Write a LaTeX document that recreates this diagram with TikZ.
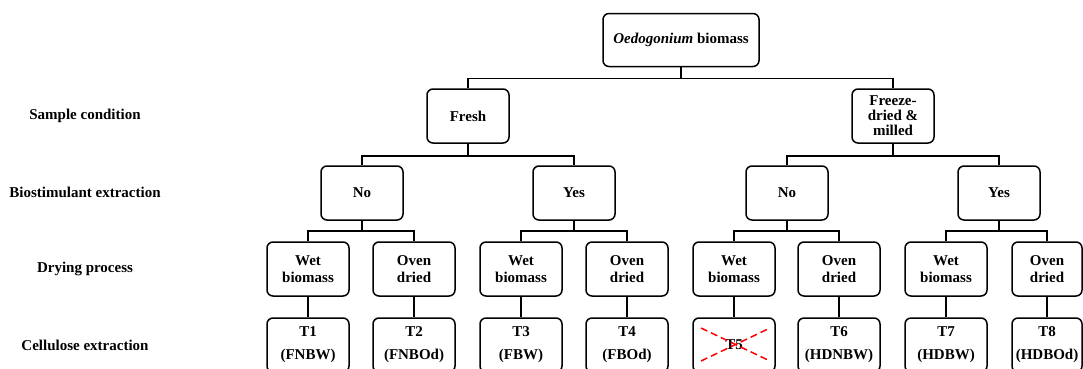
\documentclass[tikz,border=0pt]{standalone}
\usepackage{fontspec}
\setmainfont{Liberation Serif}
\newlength{\du}
\setlength{\du}{1pt}

\tikzset{
  stage/.style={draw, line width=1.5\du, rounded corners=6\du, align=center,
    minimum width=82\du, minimum height=54\du, inner sep=0pt,
    font=\fontsize{15}{17}\selectfont\bfseries},
  rowlabel/.style={align=center, font=\fontsize{15}{17}\selectfont\bfseries},
  link/.style={draw, line width=1.5\du},
  cross/.style={draw=red, line width=1.5\du, dash pattern=on 7\du off 4\du}
}

\begin{document}
\begin{tikzpicture}[yscale=-1]
\clip (0\du,0\du) rectangle (1083\du,368\du);

% row labels
\node[rowlabel] (lsample) at (85\du,116\du) {Sample condition};
\node[rowlabel] (lbio) at (85\du,192\du) {Biostimulant extraction};
\node[rowlabel] (ldry) at (85\du,269\du) {Drying process};
\node[rowlabel] (lcell) at (85\du,345\du) {Cellulose extraction};

% top
\node[stage, minimum width=156\du, minimum height=53\du] (biomass) at (681\du,40\du) {\textit{Oedogonium} biomass};

% sample condition
\node[stage] (fresh) at (468\du,116\du) {Fresh};
\node[stage, font=\fontsize{15}{15}\selectfont\bfseries] (freeze) at (893\du,116\du) {Freeze-\\dried \&\\milled};

% biostimulant extraction
\node[stage] (fno) at (362\du,193\du) {No};
\node[stage] (fyes) at (574\du,193\du) {Yes};
\node[stage] (dno) at (787\du,193\du) {No};
\node[stage] (dyes) at (999\du,193\du) {Yes};

% drying process
\node[stage] (fnowet) at (308\du,269\du) {Wet\\biomass};
\node[stage] (fnooven) at (414\du,269\du) {Oven\\dried};
\node[stage] (fyeswet) at (521\du,269\du) {Wet\\biomass};
\node[stage] (fyesoven) at (627\du,269\du) {Oven\\dried};
\node[stage] (dnowet) at (734\du,269\du) {Wet\\biomass};
\node[stage] (dnooven) at (839\du,269\du) {Oven\\dried};
\node[stage] (dyeswet) at (946\du,269\du) {Wet\\biomass};
\node[stage, minimum width=70\du] (dyesoven) at (1047\du,269\du) {Oven\\dried};

% cellulose extraction
\node[stage] (t1) at (308\du,345\du) {T1\\[6\du](FNBW)};
\node[stage] (t2) at (414\du,345\du) {T2\\[6\du](FNBOd)};
\node[stage] (t3) at (521\du,345\du) {T3\\[6\du](FBW)};
\node[stage] (t4) at (627\du,345\du) {T4\\[6\du](FBOd)};
\node[stage] (t5) at (734\du,345\du) {T5};
\node[stage] (t6) at (839\du,345\du) {T6\\[6\du](HDNBW)};
\node[stage] (t7) at (946\du,345\du) {T7\\[6\du](HDBW)};
\node[stage, minimum width=70\du] (t8) at (1047\du,345\du) {T8\\[6\du](HDBOd)};

% T5 crossed out
\draw[cross] (701\du,328\du) -- (770\du,361\du);
\draw[cross] (701\du,361\du) -- (770\du,328\du);

% links
\foreach \p/\c in {biomass/fresh, biomass/freeze}
  \draw[link] (\p.south) -- ++(0,11\du) -| (\c.north);
\foreach \p/\c in {fresh/fno, fresh/fyes, freeze/dno, freeze/dyes}
  \draw[link] (\p.south) -- ++(0,12\du) -| (\c.north);
\foreach \p/\c in {fno/fnowet, fno/fnooven, fyes/fyeswet, fyes/fyesoven,
                   dno/dnowet, dno/dnooven, dyes/dyeswet, dyes/dyesoven}
  \draw[link] (\p.south) -- ++(0,10\du) -| (\c.north);
\foreach \p/\c in {fnowet/t1, fnooven/t2, fyeswet/t3, fyesoven/t4,
                   dnowet/t5, dnooven/t6, dyeswet/t7, dyesoven/t8}
  \draw[link] (\p.south) -- (\c.north);
\end{tikzpicture}
\end{document}
